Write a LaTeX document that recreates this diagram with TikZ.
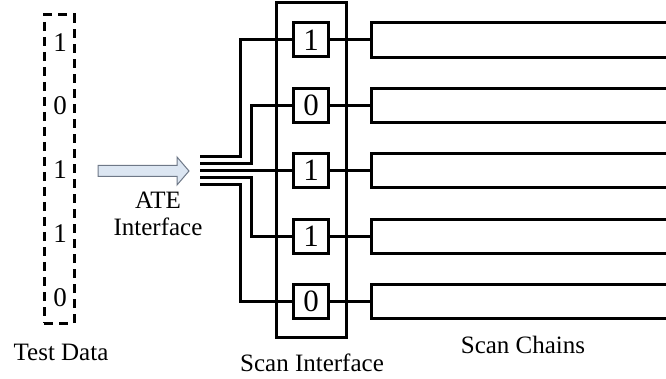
\documentclass[tikz,border=0pt]{standalone}
\usepackage{fontspec}
\setmainfont{Liberation Serif}
\definecolor{arrowfill}{RGB}{220,230,242}
\definecolor{arrowline}{RGB}{110,120,135}
\tikzset{
  wire/.style={line width=3pt, line join=miter},
  bitbox/.style={draw, line width=3pt, minimum width=35pt, minimum height=34pt, inner sep=0pt, font=\fontsize{31}{32}\selectfont},
  chainbox/.style={minimum width=300pt, minimum height=34pt, inner sep=0pt, anchor=west},
  lbl/.style={font=\fontsize{25}{28}\selectfont, inner sep=0pt},
  tbit/.style={font=\fontsize{27}{28}\selectfont, inner sep=0pt},
  atearrow/.style={draw=arrowline, fill=arrowfill, line width=1pt, line join=miter},
}
\begin{document}
\begin{tikzpicture}[x=1pt,y=-1pt]
\useasboundingbox (0,0) rectangle (666,379);
% test data
\node[draw, line width=3pt, dash pattern=on 9pt off 6pt, minimum width=30pt, minimum height=308pt, inner sep=0pt] (td) at (59,169) {};
\node[tbit] (d1) at (60,43) {1};
\node[tbit] (d2) at (60,106) {0};
\node[tbit] (d3) at (60,170) {1};
\node[tbit] (d4) at (60,234) {1};
\node[tbit] (d5) at (60,298) {0};
\node[lbl] (tdl) at (61,352) {Test Data};
% ATE arrow
\coordinate (ar) at (98,171);
\draw[atearrow] (ar) ++(0,-5.5) -- ++(79,0) -- ++(0,-8.5) -- ++(12,14) -- ++(-12,14) -- ++(0,-8.5) -- ++(-79,0) -- cycle;
\node[lbl, align=center] (atel) at (158,214) {ATE\\[-1pt]Interface};
% scan interface
\node[draw, line width=3pt, minimum width=70pt, minimum height=334pt, inner sep=0pt] (si) at (311,170) {};
\node[lbl] (sil) at (312,363) {Scan Interface};
% bit boxes
\foreach \i/\y/\b in {1/40/1,2/105.5/0,3/170.5/1,4/236.5/1,5/301.5/0}{
  \node[bitbox] (s\i) at (311,\y) {\b};
  \node[chainbox] (c\i) at (371,\y) {};
  \draw[wire] (c\i.north east) -- (c\i.north west) -- (c\i.south west) -- (c\i.south east);
  \draw[wire] (s\i.east) -- (c\i.west);
}
\node[lbl] (scl) at (523,345) {Scan Chains};
% bus
\coordinate (b1) at (200,157);
\coordinate (b2) at (200,164);
\coordinate (b3) at (200,171);
\coordinate (b4) at (200,178);
\coordinate (b5) at (200,185);
\draw[wire] (b1) -- ++(40,0) |- (s1.west);
\draw[wire] (b2) -- ++(51,0) |- (s2.west);
\draw[wire] (b3) -- (b3 -| s3.west);
\draw[wire] (b4) -- ++(51,0) |- (s4.west);
\draw[wire] (b5) -- ++(40,0) |- (s5.west);
\end{tikzpicture}
\end{document}
